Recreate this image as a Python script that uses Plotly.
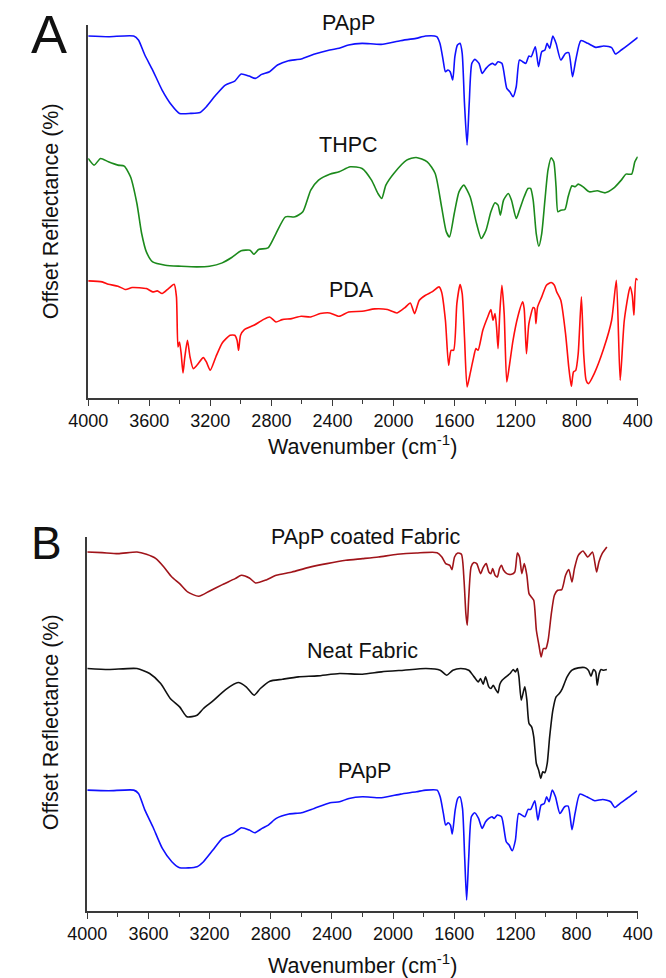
import plotly.graph_objects as go

# ---------------- Panel A data ----------------
papp_wn = [4000, 3868, 3702, 3671, 3629, 3578, 3516, 3454, 3402, 3329, 3267, 3226, 3164, 3102, 3040, 2998, 2946, 2905, 2864, 2812, 2760, 2688, 2605, 2522, 2418, 2356, 2294, 2206, 2081, 1956, 1852, 1790, 1717, 1696, 1675, 1660, 1644, 1629, 1612, 1598, 1581, 1564, 1550, 1535, 1518, 1504, 1487, 1467, 1440, 1419, 1394, 1373, 1352, 1335, 1315, 1290, 1258, 1238, 1217, 1196, 1175, 1154, 1133, 1113, 1098, 1071, 1050, 1029, 1008, 994, 977, 956, 935, 904, 873, 852, 827, 806, 773, 727, 675, 623, 571, 546, 508, 456, 400]
papp_val = [109.2, 109.0, 109.2, 108.0, 103.5, 99.0, 93.0, 88.5, 86.0, 86.0, 86.3, 88.0, 91.5, 94.5, 95.7, 97.8, 97.2, 96.5, 97.7, 98.5, 100.5, 101.8, 102.3, 103.7, 105.0, 105.5, 106.5, 107.0, 106.7, 107.8, 108.5, 109.2, 109.0, 107.0, 102.0, 98.5, 99.0, 98.5, 96.0, 103.0, 106.5, 107.0, 104.0, 89.0, 76.5, 89.0, 101.0, 102.2, 101.0, 98.0, 99.5, 100.5, 101.0, 100.5, 101.5, 101.0, 93.5, 92.5, 91.0, 94.0, 102.0, 101.5, 101.0, 103.2, 103.0, 106.0, 100.0, 104.5, 105.0, 107.0, 105.5, 109.2, 107.0, 102.0, 104.0, 104.2, 97.0, 102.0, 107.8, 107.0, 105.8, 106.2, 105.7, 103.8, 105.0, 106.8, 108.8]

thpc_wn = [4000, 3961, 3919, 3868, 3805, 3764, 3723, 3681, 3650, 3619, 3578, 3495, 3391, 3288, 3205, 3122, 3060, 2998, 2940, 2915, 2884, 2822, 2770, 2708, 2646, 2594, 2542, 2491, 2418, 2356, 2284, 2206, 2144, 2102, 2077, 2050, 1998, 1914, 1852, 1779, 1727, 1685, 1654, 1633, 1602, 1571, 1540, 1498, 1456, 1425, 1394, 1362, 1335, 1315, 1300, 1279, 1248, 1227, 1196, 1175, 1144, 1119, 1102, 1085, 1065, 1048, 1029, 1008, 988, 967, 950, 935, 923, 904, 877, 856, 831, 810, 790, 758, 717, 665, 613, 560, 508, 477, 440, 419, 400]
thpc_val = [72.5, 70.5, 72.5, 71.5, 70.5, 70.2, 67.0, 59.0, 50.0, 44.5, 41.5, 40.5, 40.2, 40.0, 40.2, 41.2, 42.8, 44.8, 45.0, 43.8, 45.2, 45.7, 50.0, 55.0, 55.0, 56.5, 63.0, 66.0, 67.8, 68.5, 70.0, 69.5, 66.0, 62.0, 60.5, 64.5, 68.0, 72.0, 72.8, 71.5, 68.0, 58.0, 50.5, 49.0, 56.0, 62.5, 64.5, 61.0, 53.0, 48.5, 51.0, 56.5, 59.2, 58.5, 55.5, 60.0, 62.0, 60.0, 54.5, 57.0, 61.0, 63.5, 63.5, 60.0, 50.0, 46.2, 50.0, 60.0, 69.0, 72.7, 71.5, 64.0, 56.5, 57.0, 57.2, 61.0, 64.3, 64.0, 64.8, 64.0, 62.5, 62.8, 62.2, 63.5, 66.0, 67.8, 67.8, 71.5, 73.0]

pda_wn = [4000, 3909, 3868, 3805, 3754, 3712, 3619, 3578, 3547, 3516, 3474, 3437, 3422, 3412, 3402, 3391, 3379, 3367, 3350, 3333, 3312, 3288, 3246, 3226, 3201, 3164, 3122, 3071, 3040, 3025, 3015, 3002, 2977, 2915, 2853, 2812, 2770, 2729, 2667, 2605, 2543, 2480, 2418, 2356, 2294, 2206, 2123, 2040, 1977, 1925, 1890, 1862, 1831, 1790, 1748, 1702, 1685, 1660, 1639, 1623, 1606, 1585, 1564, 1550, 1535, 1518, 1498, 1477, 1460, 1446, 1415, 1383, 1362, 1348, 1335, 1325, 1315, 1304, 1290, 1275, 1258, 1242, 1217, 1186, 1154, 1144, 1129, 1113, 1085, 1075, 1067, 1056, 1029, 998, 967, 946, 931, 904, 873, 852, 835, 821, 806, 790, 769, 754, 738, 723, 685, 623, 571, 540, 515, 488, 450, 436, 425, 411, 400]
pda_val = [35.8, 35.5, 34.8, 34.2, 33.2, 33.8, 33.5, 32.5, 32.8, 32.0, 33.5, 34.8, 31.0, 16.0, 17.5, 14.0, 8.2, 13.0, 18.0, 13.0, 9.5, 10.5, 12.8, 11.5, 9.0, 13.0, 17.2, 19.5, 19.5, 18.0, 15.0, 19.5, 21.2, 22.5, 24.2, 25.0, 23.5, 24.2, 24.5, 25.2, 25.0, 26.0, 26.2, 25.2, 26.5, 26.7, 27.4, 27.2, 26.2, 27.8, 29.2, 26.0, 30.0, 31.5, 32.5, 34.0, 32.5, 24.0, 10.5, 15.0, 15.0, 29.0, 34.7, 32.0, 19.0, 4.0, 8.0, 12.5, 15.5, 15.0, 21.0, 25.0, 27.2, 24.0, 26.0, 22.0, 15.5, 26.0, 34.5, 26.0, 5.5, 10.0, 18.0, 25.0, 29.5, 27.5, 14.0, 23.0, 27.8, 27.5, 23.0, 28.0, 31.0, 34.5, 35.3, 34.5, 32.5, 30.0, 20.0, 10.0, 4.2, 8.5, 9.0, 14.0, 31.0, 14.0, 6.0, 5.0, 8.0, 15.5, 24.0, 36.0, 6.0, 24.0, 34.0, 31.5, 25.5, 36.5, 36.0]

# ---------------- Panel B data ----------------
coated_wn = [4000, 3903, 3799, 3675, 3613, 3551, 3499, 3447, 3396, 3344, 3271, 3199, 3116, 3033, 2992, 2940, 2899, 2826, 2764, 2661, 2557, 2433, 2309, 2200, 2096, 1972, 1847, 1712, 1681, 1656, 1629, 1615, 1598, 1577, 1553, 1536, 1524, 1515, 1505, 1490, 1474, 1453, 1428, 1411, 1391, 1374, 1360, 1349, 1333, 1318, 1304, 1291, 1277, 1256, 1225, 1204, 1187, 1173, 1158, 1142, 1125, 1111, 1096, 1080, 1063, 1046, 1032, 1017, 1001, 986, 965, 945, 924, 897, 872, 851, 830, 814, 789, 758, 727, 696, 669, 654, 633, 602]
coated_val = [108.0, 107.8, 107.5, 108.0, 107.3, 106.0, 103.5, 100.5, 98.5, 96.0, 94.7, 96.3, 98.2, 100.0, 101.0, 100.2, 98.7, 99.7, 101.0, 102.0, 103.3, 104.5, 105.5, 106.0, 106.5, 107.3, 107.7, 107.8, 106.5, 104.5, 104.0, 102.7, 106.5, 107.7, 107.3, 99.5, 89.5, 86.0, 94.5, 103.5, 104.8, 104.5, 101.5, 103.3, 104.5, 102.0, 101.5, 103.0, 101.0, 100.5, 103.0, 104.0, 102.5, 101.5, 101.3, 102.0, 107.7, 106.5, 101.5, 104.5, 101.0, 95.5, 94.5, 93.5, 84.5, 80.0, 76.5, 79.0, 79.0, 81.5, 89.5, 95.0, 96.5, 96.7, 101.0, 102.7, 99.0, 103.0, 107.0, 108.3, 106.5, 108.0, 102.0, 105.0, 107.5, 109.5]

neat_wn = [4000, 3861, 3675, 3592, 3520, 3457, 3396, 3348, 3282, 3240, 3178, 3095, 3013, 2961, 2909, 2868, 2806, 2723, 2619, 2495, 2350, 2200, 2076, 1930, 1785, 1692, 1650, 1609, 1557, 1505, 1470, 1443, 1428, 1411, 1395, 1374, 1360, 1345, 1329, 1314, 1302, 1287, 1262, 1235, 1214, 1200, 1187, 1177, 1162, 1148, 1138, 1125, 1111, 1094, 1080, 1063, 1048, 1034, 1021, 1007, 992, 976, 955, 934, 913, 893, 862, 830, 789, 748, 723, 706, 689, 675, 665, 652, 640, 623, 602]
neat_val = [73.0, 72.7, 73.0, 71.5, 68.5, 64.0, 61.5, 58.5, 59.0, 61.0, 63.3, 66.7, 68.8, 67.5, 65.0, 67.0, 69.2, 69.8, 70.5, 70.8, 71.5, 71.3, 72.0, 72.5, 73.0, 72.5, 71.0, 72.5, 73.0, 72.5, 70.5, 69.0, 70.0, 68.3, 70.5, 67.5, 67.0, 68.0, 66.7, 65.7, 68.3, 69.5, 70.5, 71.5, 72.7, 72.0, 73.0, 70.5, 63.5, 66.0, 67.5, 63.5, 56.5, 55.5, 52.5, 44.5, 42.5, 40.0, 42.0, 41.7, 44.5, 52.5, 60.5, 64.5, 65.5, 67.0, 70.5, 72.5, 73.2, 73.3, 72.5, 70.7, 72.7, 72.0, 68.0, 71.5, 72.7, 72.5, 72.7]

pappb_wn = [4000, 3861, 3696, 3665, 3623, 3571, 3509, 3447, 3396, 3282, 3240, 3178, 3116, 3044, 2992, 2940, 2905, 2857, 2816, 2764, 2681, 2599, 2516, 2412, 2350, 2288, 2200, 2076, 1951, 1847, 1785, 1712, 1692, 1671, 1656, 1640, 1625, 1613, 1594, 1577, 1563, 1546, 1532, 1519, 1505, 1488, 1467, 1441, 1418, 1395, 1374, 1353, 1339, 1318, 1291, 1260, 1241, 1221, 1200, 1179, 1158, 1138, 1117, 1100, 1073, 1053, 1032, 1011, 996, 980, 959, 938, 909, 878, 855, 830, 810, 779, 733, 681, 629, 577, 550, 515, 461, 405]
pappb_val = [36.5, 36.3, 36.5, 35.5, 30.5, 25.5, 19.0, 15.0, 13.2, 13.5, 15.0, 18.5, 22.0, 23.5, 25.2, 24.5, 23.7, 25.0, 26.0, 28.0, 29.3, 29.7, 31.0, 32.7, 33.0, 34.0, 34.5, 34.2, 35.3, 36.0, 36.5, 36.5, 34.5, 29.5, 26.0, 26.7, 26.0, 23.3, 30.5, 34.0, 34.5, 31.0, 16.5, 3.5, 16.5, 28.5, 29.7, 28.0, 25.0, 27.0, 28.0, 28.5, 28.0, 29.0, 28.5, 21.0, 20.0, 18.3, 21.5, 29.5, 29.0, 28.5, 30.7, 30.7, 33.3, 27.5, 32.0, 32.5, 34.5, 33.0, 36.5, 34.5, 29.5, 31.5, 31.7, 24.6, 29.5, 35.3, 34.5, 33.3, 33.7, 33.0, 31.3, 32.5, 34.3, 36.3]

x_ticks = [4000, 3600, 3200, 2800, 2400, 2000, 1600, 1200, 800, 400]
x_title = "Wavenumber (cm<sup>-1</sup>)"
y_title = "Offset Reflectance (%)"

W, H = 666, 978
FONT = "Arial, Liberation Sans, sans-serif"

def px(x):
    return x / W

def py(y):
    return 1 - y / H

fig = go.Figure()

def add(x, y, color, xa, ya):
    fig.add_trace(go.Scatter(x=x, y=y, mode="lines", xaxis=xa, yaxis=ya,
                             line=dict(color=color, width=1.6, shape="spline", smoothing=0.6),
                             showlegend=False, hoverinfo="skip"))

add(papp_wn, papp_val, "#1010ff", "x", "y")
add(thpc_wn, thpc_val, "#1c8a1c", "x", "y")
add(pda_wn, pda_val, "#ff0d0d", "x", "y")
add(coated_wn, coated_val, "#a0141a", "x2", "y2")
add(neat_wn, neat_val, "#111111", "x2", "y2")
add(pappb_wn, pappb_val, "#1010ff", "x2", "y2")

axis_common = dict(
    range=[4000, 400], tickmode="array", tickvals=x_ticks,
    ticktext=[str(t) for t in x_ticks],
    showline=True, linecolor="#3a3a3a", linewidth=1.6,
    ticks="outside", ticklen=6, tickwidth=1.4, tickcolor="#3a3a3a",
    minor=dict(dtick=200, ticks="outside", ticklen=4, tickwidth=1.2, tickcolor="#3a3a3a", tick0=0),
    showgrid=False, zeroline=False, ticklabeloverflow="allow",
    tickfont=dict(family=FONT, size=18, color="#111"),
)
yaxis_common = dict(showline=True, linecolor="#3a3a3a", linewidth=1.6,
                    showticklabels=False, ticks="", showgrid=False, zeroline=False)

fig.update_layout(
    width=W, height=H, margin=dict(l=0, r=0, t=0, b=0),
    paper_bgcolor="white", plot_bgcolor="white",
    xaxis=dict(domain=[px(72), px(652)], anchor="y", **axis_common),
    yaxis=dict(domain=[py(398), py(25)], anchor="x", range=[0.7, 112.5], **yaxis_common),
    xaxis2=dict(domain=[px(71), px(652)], anchor="y2", **axis_common),
    yaxis2=dict(domain=[py(911), py(537)], anchor="x2", range=[0.2, 112.5], **yaxis_common),
)

def ann(text, x, y, size, angle=0):
    fig.add_annotation(text=text, x=px(x), y=py(y), xref="paper", yref="paper",
                       showarrow=False, textangle=angle, xanchor="center", yanchor="middle",
                       font=dict(family=FONT, size=size, color="#111"))

# Panel letters
ann("A", 31, 34, 54)
ann("B", 28, 543, 46)
# Series labels
ann("PApP", 347, 23, 21.5)
ann("THPC", 347, 145, 21.5)
ann("PDA", 350, 290, 21.5)
ann("PApP coated Fabric", 365, 537, 21.5)
ann("Neat Fabric", 361, 651, 21.5)
ann("PApP", 364, 771, 21.5)
# Axis titles
ann(x_title, 362, 445, 21.5)
ann(x_title, 362, 964, 21.5)
ann(y_title, 33, 211, 21.5, -90)
ann(y_title, 33, 722, 21.5, -90)

fig.write_html("out.html")
